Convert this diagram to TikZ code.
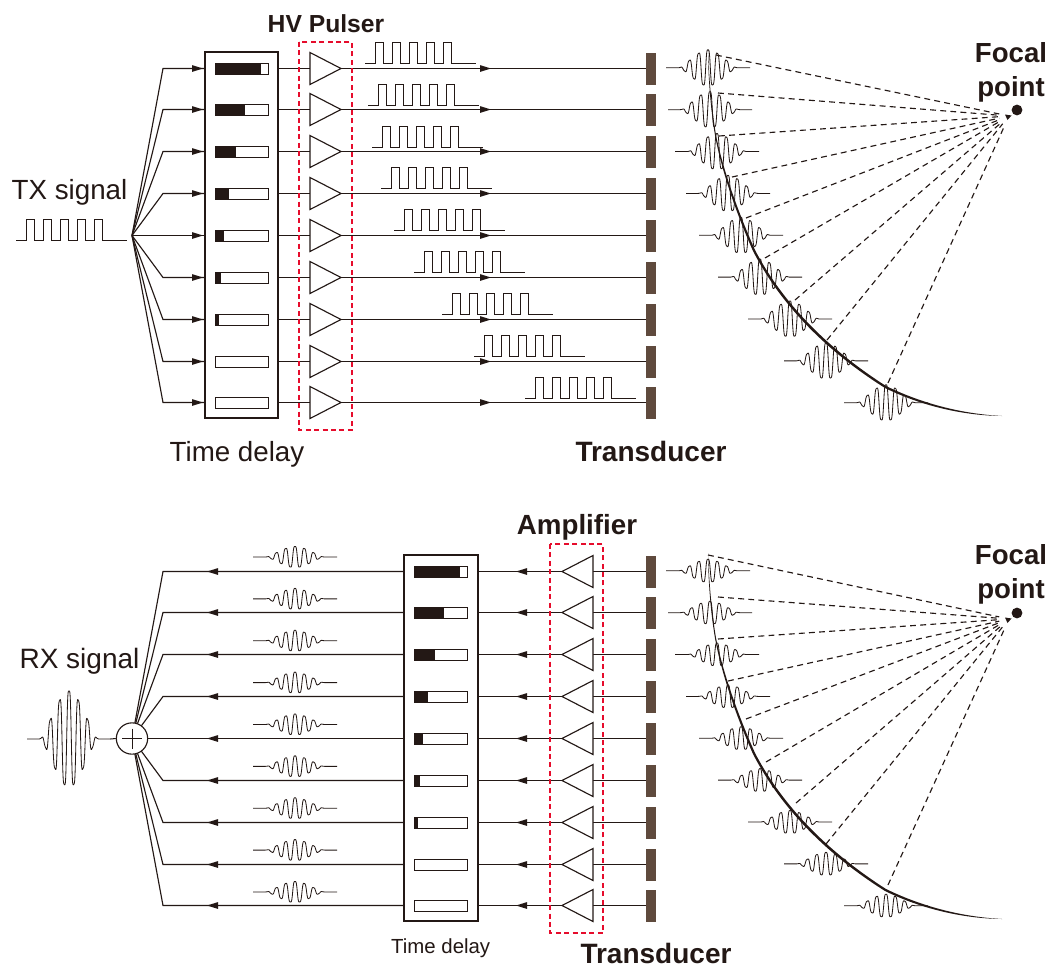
\documentclass[tikz,border=0pt]{standalone}
\usepackage{fontspec}
\setmainfont{Liberation Sans}
\usetikzlibrary{calc}
\definecolor{ink}{HTML}{231815}
\definecolor{brownel}{HTML}{5F4A3D}
\definecolor{redbox}{HTML}{E60C2C}
\tikzset{
  wire/.style={draw=ink,line width=0.85pt},
  thin wire/.style={draw=ink,line width=0.75pt},
  amp/.style={draw=ink,line width=0.85pt,fill=white},
  element/.style={fill=brownel,draw=none},
  redframe/.style={draw=redbox,line width=1.65pt,dash pattern=on 3.8pt off 2.5pt},
  ray/.style={draw=ink,line width=0.85pt,dash pattern=on 4.4pt off 3.2pt},
  lab/.style={text=ink,inner sep=0pt,anchor=center},
}
\newcommand{\midarrow}[2]{\fill[ink] (#1+5,#2) -- (#1-6,#2-3.4) -- (#1-6,#2+3.4) -- cycle;}
\newcommand{\leftarrowhead}[2]{\fill[ink] (#1-5,#2) -- (#1+6,#2-3.4) -- (#1+6,#2+3.4) -- cycle;}
% pulse train: x, baseline y
\newcommand{\pulsetrain}[2]{\draw[thin wire,line join=miter] (#1,#2) -- ++(10,0) -- ++(0,-21.5)
  -- ++(8.5,0) -- ++(0,21.5) -- ++(8.5,0) -- ++(0,-21.5) -- ++(8.5,0) -- ++(0,21.5) -- ++(8.5,0)
  -- ++(0,-21.5) -- ++(8.5,0) -- ++(0,21.5) -- ++(8.5,0) -- ++(0,-21.5) -- ++(8.5,0) -- ++(0,21.5)
  -- ++(8.5,0) -- ++(0,-21.5) -- ++(8.5,0) -- ++(0,21.5) -- (#1+111,#2);}
% wave: start x, baseline y, amplitude
\newcommand{\wavelet}[4][0.62pt]{\draw[draw=ink,line width=#1,line join=round] plot[domain=-42:42,samples=170,smooth] ({#2+42+\x},{#3-(#4)*1.136*exp(-(\x*\x/400)-(\x*\x/676)^5)*(cos(\x*38.71)-0.12*cos(\x*116.13))});}
% delay bar: x, y, filled width
\newcommand{\delaybar}[3]{\fill[white] (#1,#2-5.5) rectangle (#1+53,#2+5.5);
  \ifdim #3pt>0pt \fill[ink] (#1,#2-5.5) rectangle (#1+#3,#2+5.5);\fi
  \draw[thin wire] (#1,#2-5.5) rectangle (#1+53,#2+5.5);}
% beam: y offset, name suffix, wave amplitude, list of ray starts
\newcommand{\beam}[4]{%
  \foreach \wx/\sx/\sy [count=\k from 0] in #4 {
    \pgfmathsetmacro{\wy}{67.8+41.87*\k+#1}
    \wavelet{\wx}{\wy}{#3}
    \coordinate (s\k) at (\sx,\sy+#1);
    \draw[ray,shorten >=7.5pt] (s\k) -- (focus#2);
  }
  \fill[ink] (708,50+#1) .. controls (709.0,75+#1) and (711,105+#1) .. (716,135+#1)
    .. controls (722,165+#1) and (735,205+#1) .. (755,250+#1)
    .. controls (780,298+#1) and (822,345+#1) .. (886,386+#1)
    .. controls (925,405+#1) and (965,414+#1) .. (1002,416+#1)
    .. controls (965,415.5+#1) and (924,407+#1) .. (885,388+#1)
    .. controls (820,347+#1) and (778,299.5+#1) .. (753,251+#1)
    .. controls (733,206+#1) and (720.5,165+#1) .. (715,135.3+#1)
    .. controls (710,105+#1) and (708.2,75+#1) .. (708,50+#1) -- cycle;
  \fill[ink] (focal#2) circle [radius=5.4];
  \fill[ink] (1005,114.5+#1) -- (1011.5,115.5+#1) -- (1007.5,120+#1) -- cycle;
}
\newcommand{\raysT}{666/716/55,668/718/93,675/719/136,686/732/177,699/746/218,718/765/258,748/795/300,784/827/340,844/888/383}
\newcommand{\raysR}{666/708/52,668/718/94,675/718/136,686/728/178,699/746/216,718/766/259,748/796/300,784/826/341,844/888/382}
\begin{document}
\begin{tikzpicture}[x=0.75pt,y=-0.75pt]
\useasboundingbox (0,0) rectangle (1051,965);
\fill[white] (0,0) rectangle (1051,965);

% ---------- TX ----------
\coordinate (txhub) at (132,235.5);
\coordinate (focusT) at (1009,116);
\coordinate (focalT) at (1017,110);
\coordinate (focusR) at (1009,619);
\coordinate (focalR) at (1017,613);
\node[lab,font=\fontsize{20.8}{24}\selectfont] (txlab) at (69.5,192) {TX signal};
\pulsetrain{16}{240.5}
\draw[amp] (205,52) rectangle (278,418);
\foreach \w [count=\k from 0] in {46,30,21,14,9,5.5,3.5,1,0}{
  \pgfmathsetmacro{\yy}{floor(68+41.87*\k)+0.5}
  \coordinate (tb\k) at (163,\yy);
  \draw[wire] (txhub) -- (tb\k) -- (205,\yy);
  \midarrow{198}{\yy}
  \delaybar{215}{\yy}{\w}
  \draw[wire] (278,\yy) -- (310,\yy);
  \draw[amp] (310,\yy-16) -- (341,\yy) -- (310,\yy+16) -- cycle;
  \draw[wire] (341,\yy) -- (646,\yy);
  \midarrow{486}{\yy}
  \fill[element] (646,\yy-16) rectangle (656,\yy+16);
}
\foreach \px [count=\k from 0] in {365,368,372,381,394,414,442,474,525}{
  \pgfmathsetmacro{\yy}{floor(63.3+41.87*\k)+0.5}
  \pulsetrain{\px}{\yy}
}
\draw[redframe] (299,42) rectangle (352,430);
\node[lab,font=\bfseries\fontsize{18.5}{22}\selectfont] (hvlab) at (326,24) {HV Pulser};
\node[lab,font=\fontsize{20.8}{24}\selectfont] (tdlab) at (237,454.5) {Time delay};
\node[lab,font=\bfseries\fontsize{21}{24}\selectfont] (trlab) at (651,451) {Transducer};
\beam{0}{T}{18}{\raysT}
\node[lab,font=\bfseries\fontsize{20.7}{25.5}\selectfont,align=center] (fplab) at (1011,72) {Focal\\point};

% ---------- RX ----------
\node[lab,font=\fontsize{21}{24}\selectfont] (rxlab) at (79.5,661) {RX signal};
\coordinate (rxhub) at (132,738.5);
\foreach \w [count=\k from 0] in {46,30,21,14,9,5.5,3.5,1,0}{
  \pgfmathsetmacro{\yy}{floor(571+41.87*\k)+0.5}
  \pgfmathsetmacro{\wy}{557+41.87*\k}
  \coordinate (rb\k) at (163,\yy);
  \draw[wire] (rxhub) -- (rb\k) -- (404,\yy);
  \leftarrowhead{212}{\yy}
  \wavelet{253}{\wy}{10.5}
  \draw[wire] (478,\yy) -- (646,\yy);
  \leftarrowhead{521}{\yy}
  \fill[element] (646,\yy-16) rectangle (656,\yy+16);
}
\draw[amp] (404,555) rectangle (478,921);
\foreach \w [count=\k from 0] in {46,30,21,14,9,5.5,3.5,1,0}{
  \pgfmathsetmacro{\yy}{floor(571+41.87*\k)+0.5}
  \delaybar{414}{\yy}{\w}
  \draw[amp] (593,\yy-16) -- (562,\yy) -- (593,\yy+16) -- cycle;
}
\draw[redframe] (550,544) rectangle (603,933);
\node[amp,circle,minimum size=23.5pt,inner sep=0pt] (sum) at (132,738.5) {};
\draw[thin wire] (132,728.5) -- (132,748.5) (122,738.5) -- (142,738.5);
\wavelet[0.62pt]{27}{739}{48}
\draw[thin wire] (110.5,739) -- (sum.west);
\node[lab,font=\bfseries\fontsize{20.8}{24}\selectfont] (amplab) at (577,527) {Amplifier};
\node[lab,font=\fontsize{15.3}{18}\selectfont] (tdlab2) at (440.7,948) {Time delay};
\node[lab,font=\bfseries\fontsize{21}{24}\selectfont] (trlab2) at (656,953.5) {Transducer};
\beam{503}{R}{11.5}{\raysR}
\node[lab,font=\bfseries\fontsize{20.7}{25.5}\selectfont,align=center] (fplab2) at (1011,574.5) {Focal\\point};
\end{tikzpicture}
\end{document}
